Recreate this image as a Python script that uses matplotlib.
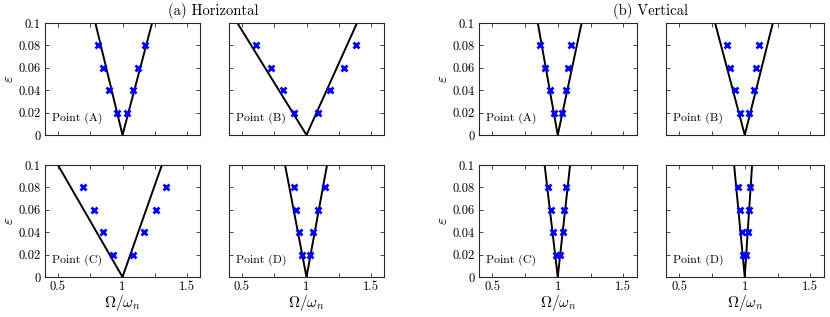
import numpy as np
import matplotlib
matplotlib.use("Agg")
from matplotlib import pyplot as plt

plt.rcParams['font.family'] = 'serif'
plt.rcParams['font.serif'] = ['cmr10', 'DejaVu Serif']
plt.rcParams['mathtext.fontset'] = 'cm'
plt.rcParams['axes.formatter.use_mathtext'] = True

eps = [0.02, 0.04, 0.06, 0.08]

# boundary lines: x where left / right branch reaches eps = 0.1 (apex at 1, 0)
# order: A, B, C, D
H_left_top = [0.79, 0.465, 0.50, 0.834]
H_right_top = [1.229, 1.391, 1.305, 1.159]
V_left_top = [0.848, 0.774, 0.90, 0.919]
V_right_top = [1.182, 1.214, 1.094, 1.056]

# markers (left branch, right branch), eps = 0.02 .. 0.08
H_pts_left = [[0.955, 0.892, 0.851, 0.81],
              [0.90, 0.818, 0.727, 0.606],
              [0.924, 0.846, 0.778, 0.698],
              [0.963, 0.942, 0.921, 0.901]]
H_pts_right = [[1.038, 1.079, 1.121, 1.175],
               [1.089, 1.18, 1.293, 1.381],
               [1.079, 1.167, 1.26, 1.34],
               [1.03, 1.054, 1.089, 1.146]]
V_pts_left = [[0.972, 0.942, 0.904, 0.861],
              [0.962, 0.926, 0.885, 0.868],
              [0.987, 0.967, 0.946, 0.926],
              [0.99, 0.98, 0.962, 0.949]]
V_pts_right = [[1.035, 1.063, 1.076, 1.104],
               [1.036, 1.069, 1.089, 1.107],
               [1.015, 1.038, 1.051, 1.064],
               [1.008, 1.023, 1.033, 1.043]]

labels = ['Point (A)', 'Point (B)', 'Point (C)', 'Point (D)']

fig = plt.figure(figsize=(8.3, 3.17), dpi=100)

W, H = 830.0, 317.0
col_left = [[45, 229], [479, 666]]
col_w = [155, 157.5]
row_top = [23, 165]
ah = 112

def make_panel(ax, xl, xr, pl, pr, lab, left_lab, bottom_lab):
    ax.plot([xl, 1, xr], [0.1, 0, 0.1], color='k', lw=1.4)
    ax.plot(pl, eps, 'x', color='b', ms=4, mew=2)
    ax.plot(pr, eps, 'x', color='b', ms=4, mew=2)
    ax.set_xlim(0.4, 1.6)
    ax.set_ylim(0, 0.1)
    ax.set_xticks([0.5, 0.75, 1, 1.25, 1.5])
    ax.set_yticks([0, 0.02, 0.04, 0.06, 0.08, 0.1])
    if bottom_lab:
        ax.set_xticklabels(['0.5', '', '1', '', '1.5'])
        ax.set_xlabel(r'$\Omega/\omega_n$', fontsize=11, labelpad=0)
    else:
        ax.set_xticklabels([])
    if left_lab:
        ax.set_yticklabels(['0', '0.02', '0.04', '0.06', '0.08', '0.1'])
        ax.set_ylabel(r'$\varepsilon$', fontsize=11, labelpad=2)
    else:
        ax.set_yticklabels([])
    ax.tick_params(direction='in', top=True, right=True, length=3, width=0.6,
                   labelsize=9, pad=3, colors='#262626', labelcolor='k')
    for s in ax.spines.values():
        s.set_linewidth(0.8)
        s.set_color('#262626')
    ax.text(0.045, 0.15, lab, transform=ax.transAxes, va='center', ha='left', fontsize=8.5)

for g, (left_top, right_top, pl, pr) in enumerate([
        (H_left_top, H_right_top, H_pts_left, H_pts_right),
        (V_left_top, V_right_top, V_pts_left, V_pts_right)]):
    for i in range(4):
        r, c = divmod(i, 2)
        x0 = col_left[g][c]
        y0 = row_top[r]
        ax = fig.add_axes([x0 / W, 1 - (y0 + ah) / H, col_w[g] / W, ah / H])
        make_panel(ax, left_top[i], right_top[i], pl[i], pr[i], labels[i],
                   c == 0, r == 1)

fig.text(213 / W, 1 - 11 / H, '(a) Horizontal', ha='center', va='center', fontsize=10.5)
fig.text(650 / W, 1 - 11 / H, '(b) Vertical', ha='center', va='center', fontsize=10.5)

plt.savefig('out.png', dpi=100)
